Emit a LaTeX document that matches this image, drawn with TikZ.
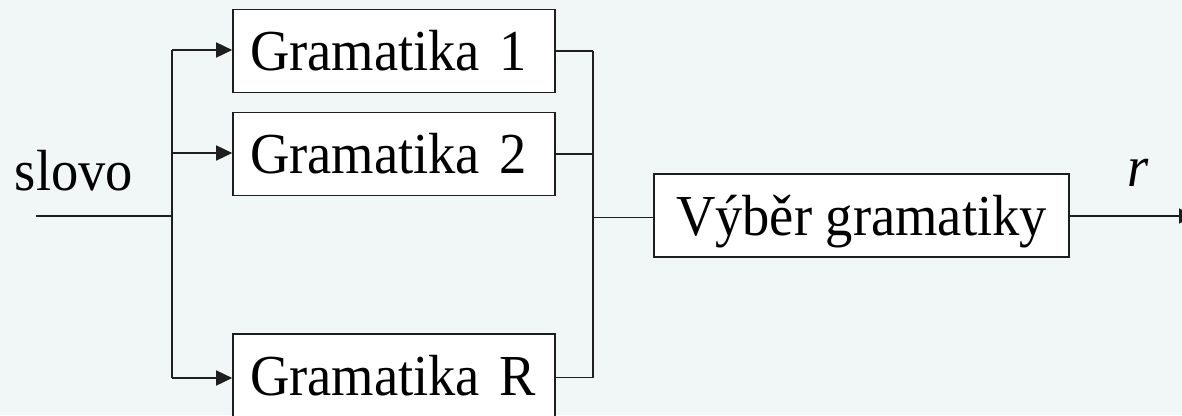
\documentclass[tikz,border=0pt]{standalone}
\usepackage{fontspec}
\setmainfont{Liberation Serif}[FakeStretch=0.94]
\usetikzlibrary{arrows.meta}
\definecolor{paper}{HTML}{F1F6F6}
\definecolor{ink}{HTML}{1E1E1E}
\begin{document}
\begin{tikzpicture}[x=1pt, y=-1pt,
  txt/.style={font=\fontsize{58}{62}\selectfont, text=black},
  blk/.style={txt, draw=ink, line width=1.6pt, fill=white,
    minimum height=83pt, inner ysep=0pt, inner xsep=16pt,
    text height=39pt, text depth=0pt},
  gram/.style={blk, minimum width=322pt, inner xsep=5pt, text width=312pt,
    align=left, execute at begin node={\hspace*{12pt}}},
  wire/.style={draw=ink, line width=1.5pt},
  arr/.style={wire, -{Triangle[length=16pt, width=15pt]}}]
  % background and frame
  \fill[paper] (0,0) rectangle (1182,415);
  \useasboundingbox (0,0) rectangle (1182,415);

  % blocks
  \node[gram] (g1) at (394,51.1)  {Gramatika 1};
  \node[gram] (g2) at (394,153.9) {Gramatika 2};
  \node[gram] (gR) at (394,375.6) {Gramatika R};
  \node[blk, minimum width=415pt] (sel) at (861.5,215.7) {Výběr gramatiky};

  % labels
  \node[txt, anchor=base] (in) at (74,190) {slovo};
  \node[txt, anchor=base] (out) at (1138,186.7) {\itshape r};

  % junction points
  \coordinate (src) at (36,216);
  \coordinate (split) at (172,216);
  \coordinate (sTop) at (172,50);
  \coordinate (s2) at (172,153);
  \coordinate (sBot) at (172,378);
  \coordinate (mTop) at (593,51.1);
  \coordinate (m2) at (593,153.9);
  \coordinate (mBot) at (593,377.7);
  \coordinate (merge) at (593,217.3);
  \coordinate (sink) at (1195,216);

  % input fan-out
  \draw[wire] (src) -- (split);
  \draw[wire] (sTop) -- (sBot);
  \draw[arr] (sTop) -- (sTop -| g1.west);
  \draw[arr] (s2) -- (s2 -| g2.west);
  \draw[arr] (sBot) -- (sBot -| gR.west);

  % outputs merge
  \draw[wire] (g1.east) -- (mTop);
  \draw[wire] (g2.east) -- (m2);
  \draw[wire] (gR.east |- mBot) -- (mBot);
  \draw[wire] (mTop) -- (mBot);
  \draw[wire] (merge) -- (merge -| sel.west);

  % result
  \draw[arr] (sel.east |- sink) -- (sink);
\end{tikzpicture}
\end{document}
